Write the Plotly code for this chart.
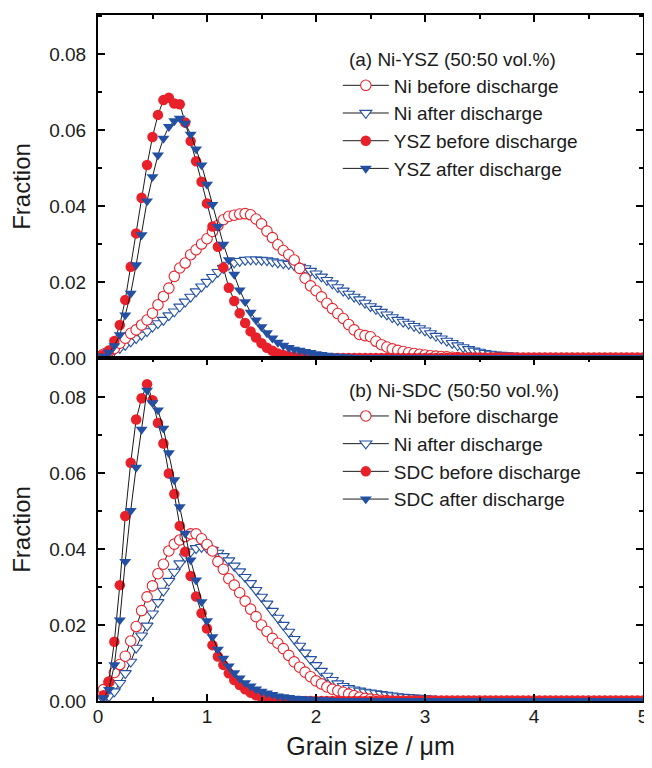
import plotly.graph_objects as go
from plotly.subplots import make_subplots

# ---------------- data ----------------
grain_size = [
    0.05, 0.10, 0.15, 0.20, 0.25, 0.30, 0.35, 0.40, 0.45, 0.50,
    0.55, 0.60, 0.65, 0.70, 0.75, 0.80, 0.85, 0.90, 0.95, 1.00,
    1.05, 1.10, 1.15, 1.20, 1.25, 1.30, 1.35, 1.40, 1.45, 1.50,
    1.55, 1.60, 1.65, 1.70, 1.75, 1.80, 1.85, 1.90, 1.95, 2.00,
    2.05, 2.10, 2.15, 2.20, 2.25, 2.30, 2.35, 2.40, 2.45, 2.50,
    2.55, 2.60, 2.65, 2.70, 2.75, 2.80, 2.85, 2.90, 2.95, 3.00,
    3.05, 3.10, 3.15, 3.20, 3.25, 3.30, 3.35, 3.40, 3.45, 3.50,
    3.55, 3.60, 3.65, 3.70, 3.75, 3.80, 3.85, 3.90, 3.95, 4.00,
    4.05, 4.10, 4.15, 4.20, 4.25, 4.30, 4.35, 4.40, 4.45, 4.50,
    4.55, 4.60, 4.65, 4.70, 4.75, 4.80, 4.85, 4.90, 4.95, 5.00,
]

# (a) Ni-YSZ
ni_before_a = [
    0.0010, 0.0017, 0.0025, 0.0039, 0.0052, 0.0065, 0.0074, 0.0087, 0.0100, 0.0118,
    0.0140, 0.0162, 0.0184, 0.0215, 0.0237, 0.0250, 0.0272, 0.0285, 0.0300, 0.0314,
    0.0333, 0.0349, 0.0364, 0.0373, 0.0376, 0.0379, 0.0380, 0.0377, 0.0366, 0.0353,
    0.0334, 0.0317, 0.0298, 0.0283, 0.0272, 0.0258, 0.0236, 0.0210, 0.0190, 0.0177,
    0.0161, 0.0144, 0.0130, 0.0117, 0.0104, 0.0088, 0.0074, 0.0062, 0.0059, 0.0056,
    0.0044, 0.0035, 0.0029, 0.0024, 0.0020, 0.0017, 0.0014, 0.0012, 0.0010, 0.0008,
    0.0006, 0.0005, 0.0004, 0.0003, 0.0002, 0.0001, 0.0, 0.0, 0.0, 0.0,
    0.0, 0.0, 0.0, 0.0, 0.0, 0.0, 0.0, 0.0, 0.0, 0.0,
    0.0, 0.0, 0.0, 0.0, 0.0, 0.0, 0.0, 0.0, 0.0, 0.0,
    0.0, 0.0, 0.0, 0.0, 0.0, 0.0, 0.0, 0.0, 0.0, 0.0,
]
ni_after_a = [
    0.0010, 0.0017, 0.0021, 0.0026, 0.0034, 0.0043, 0.0052, 0.0061, 0.0070, 0.0082,
    0.0091, 0.0100, 0.0112, 0.0122, 0.0135, 0.0148, 0.0161, 0.0175, 0.0188, 0.0200,
    0.0213, 0.0226, 0.0237, 0.0245, 0.0251, 0.0255, 0.0258, 0.0259, 0.0259, 0.0258,
    0.0257, 0.0254, 0.0251, 0.0249, 0.0247, 0.0244, 0.0240, 0.0236, 0.0229, 0.0222,
    0.0214, 0.0205, 0.0196, 0.0186, 0.0177, 0.0169, 0.0161, 0.0154, 0.0145, 0.0136,
    0.0129, 0.0121, 0.0114, 0.0107, 0.0100, 0.0095, 0.0090, 0.0084, 0.0078, 0.0072,
    0.0065, 0.0058, 0.0051, 0.0045, 0.0039, 0.0033, 0.0028, 0.0023, 0.0019, 0.0016,
    0.0013, 0.0011, 0.0009, 0.0008, 0.0007, 0.0006, 0.0005, 0.0004, 0.0003, 0.0003,
    0.0002, 0.0002, 0.0001, 0.0, 0.0, 0.0, 0.0, 0.0, 0.0, 0.0,
    0.0, 0.0, 0.0, 0.0, 0.0, 0.0, 0.0, 0.0, 0.0, 0.0,
]
ysz_before_a = [
    0.0008, 0.0020, 0.0045, 0.0087, 0.0153, 0.0240, 0.0328, 0.0422, 0.0508, 0.0582,
    0.0640, 0.0679, 0.0685, 0.0670, 0.0668, 0.0620, 0.0571, 0.0518, 0.0464, 0.0407,
    0.0346, 0.0293, 0.0238, 0.0185, 0.0150, 0.0118, 0.0092, 0.0070, 0.0054, 0.0039,
    0.0027, 0.0019, 0.0012, 0.0008, 0.0005, 0.0003, 0.0002, 0.0001, 0.0, 0.0,
    0.0, 0.0, 0.0, 0.0, 0.0, 0.0, 0.0, 0.0, 0.0, 0.0,
    0.0, 0.0, 0.0, 0.0, 0.0, 0.0, 0.0, 0.0, 0.0, 0.0,
    0.0, 0.0, 0.0, 0.0, 0.0, 0.0, 0.0, 0.0, 0.0, 0.0,
    0.0, 0.0, 0.0, 0.0, 0.0, 0.0, 0.0, 0.0, 0.0, 0.0,
    0.0, 0.0, 0.0, 0.0, 0.0, 0.0, 0.0, 0.0, 0.0, 0.0,
    0.0, 0.0, 0.0, 0.0, 0.0, 0.0, 0.0, 0.0, 0.0, 0.0,
]
ysz_after_a = [
    0.0005, 0.0015, 0.0032, 0.0061, 0.0113, 0.0170, 0.0245, 0.0324, 0.0413, 0.0477,
    0.0534, 0.0578, 0.0609, 0.0624, 0.0631, 0.0618, 0.0589, 0.0550, 0.0508, 0.0457,
    0.0404, 0.0346, 0.0299, 0.0258, 0.0220, 0.0179, 0.0148, 0.0120, 0.0100, 0.0082,
    0.0066, 0.0052, 0.0041, 0.0033, 0.0027, 0.0023, 0.0020, 0.0017, 0.0014, 0.0011,
    0.0009, 0.0007, 0.0005, 0.0004, 0.0003, 0.0002, 0.0001, 0.0, 0.0, 0.0,
    0.0, 0.0, 0.0, 0.0, 0.0, 0.0, 0.0, 0.0, 0.0, 0.0,
    0.0, 0.0, 0.0, 0.0, 0.0, 0.0, 0.0, 0.0, 0.0, 0.0,
    0.0, 0.0, 0.0, 0.0, 0.0, 0.0, 0.0, 0.0, 0.0, 0.0,
    0.0, 0.0, 0.0, 0.0, 0.0, 0.0, 0.0, 0.0, 0.0, 0.0,
    0.0, 0.0, 0.0, 0.0, 0.0, 0.0, 0.0, 0.0, 0.0, 0.0,
]

# (b) Ni-SDC
ni_before_b = [
    0.0030, 0.0050, 0.0075, 0.0096, 0.0118, 0.0158, 0.0196, 0.0238, 0.0274, 0.0303,
    0.0335, 0.0360, 0.0395, 0.0413, 0.0424, 0.0433, 0.0440, 0.0440, 0.0427, 0.0412,
    0.0395, 0.0367, 0.0347, 0.0322, 0.0305, 0.0285, 0.0263, 0.0242, 0.0222, 0.0200,
    0.0183, 0.0165, 0.0152, 0.0138, 0.0120, 0.0103, 0.0089, 0.0076, 0.0064, 0.0053,
    0.0045, 0.0037, 0.0031, 0.0027, 0.0023, 0.0018, 0.0014, 0.0010, 0.0007, 0.0005,
    0.0003, 0.0002, 0.0001, 0.0, 0.0, 0.0, 0.0, 0.0, 0.0, 0.0,
    0.0, 0.0, 0.0, 0.0, 0.0, 0.0, 0.0, 0.0, 0.0, 0.0,
    0.0, 0.0, 0.0, 0.0, 0.0, 0.0, 0.0, 0.0, 0.0, 0.0,
    0.0, 0.0, 0.0, 0.0, 0.0, 0.0, 0.0, 0.0, 0.0, 0.0,
    0.0, 0.0, 0.0, 0.0, 0.0, 0.0, 0.0, 0.0, 0.0, 0.0,
]
ni_after_b = [
    0.0005, 0.0012, 0.0025, 0.0047, 0.0073, 0.0103, 0.0140, 0.0172, 0.0198, 0.0230,
    0.0260, 0.0290, 0.0316, 0.0340, 0.0362, 0.0380, 0.0393, 0.0402, 0.0405, 0.0403,
    0.0398, 0.0390, 0.0381, 0.0370, 0.0356, 0.0341, 0.0326, 0.0310, 0.0292, 0.0274,
    0.0256, 0.0237, 0.0219, 0.0200, 0.0182, 0.0163, 0.0145, 0.0127, 0.0110, 0.0094,
    0.0079, 0.0066, 0.0055, 0.0046, 0.0039, 0.0034, 0.0030, 0.0027, 0.0024, 0.0022,
    0.0020, 0.0018, 0.0016, 0.0014, 0.0012, 0.0011, 0.0010, 0.0009, 0.0008, 0.0007,
    0.0006, 0.0005, 0.0004, 0.0004, 0.0003, 0.0003, 0.0002, 0.0002, 0.0001, 0.0,
    0.0, 0.0, 0.0, 0.0, 0.0, 0.0, 0.0, 0.0, 0.0, 0.0,
    0.0, 0.0, 0.0, 0.0, 0.0, 0.0, 0.0, 0.0, 0.0, 0.0,
    0.0, 0.0, 0.0, 0.0, 0.0, 0.0, 0.0, 0.0, 0.0, 0.0,
]
sdc_before_b = [
    0.0015, 0.0051, 0.0156, 0.0305, 0.0487, 0.0627, 0.0741, 0.0797, 0.0834, 0.0792,
    0.0732, 0.0678, 0.0599, 0.0545, 0.0461, 0.0393, 0.0329, 0.0275, 0.0231, 0.0191,
    0.0147, 0.0117, 0.0095, 0.0073, 0.0055, 0.0042, 0.0031, 0.0022, 0.0015, 0.0010,
    0.0007, 0.0005, 0.0003, 0.0002, 0.0001, 0.0, 0.0, 0.0, 0.0, 0.0,
    0.0, 0.0, 0.0, 0.0, 0.0, 0.0, 0.0, 0.0, 0.0, 0.0,
    0.0, 0.0, 0.0, 0.0, 0.0, 0.0, 0.0, 0.0, 0.0, 0.0,
    0.0, 0.0, 0.0, 0.0, 0.0, 0.0, 0.0, 0.0, 0.0, 0.0,
    0.0, 0.0, 0.0, 0.0, 0.0, 0.0, 0.0, 0.0, 0.0, 0.0,
    0.0, 0.0, 0.0, 0.0, 0.0, 0.0, 0.0, 0.0, 0.0, 0.0,
    0.0, 0.0, 0.0, 0.0, 0.0, 0.0, 0.0, 0.0, 0.0, 0.0,
]
sdc_after_b = [
    0.0008, 0.0030, 0.0095, 0.0213, 0.0367, 0.0501, 0.0615, 0.0715, 0.0818, 0.0785,
    0.0766, 0.0718, 0.0653, 0.0582, 0.0511, 0.0441, 0.0371, 0.0318, 0.0261, 0.0211,
    0.0169, 0.0136, 0.0112, 0.0092, 0.0074, 0.0060, 0.0048, 0.0039, 0.0031, 0.0025,
    0.0021, 0.0017, 0.0013, 0.0011, 0.0009, 0.0007, 0.0006, 0.0005, 0.0004, 0.0003,
    0.0002, 0.0002, 0.0001, 0.0, 0.0, 0.0, 0.0, 0.0, 0.0, 0.0,
    0.0, 0.0, 0.0, 0.0, 0.0, 0.0, 0.0, 0.0, 0.0, 0.0,
    0.0, 0.0, 0.0, 0.0, 0.0, 0.0, 0.0, 0.0, 0.0, 0.0,
    0.0, 0.0, 0.0, 0.0, 0.0, 0.0, 0.0, 0.0, 0.0, 0.0,
    0.0, 0.0, 0.0, 0.0, 0.0, 0.0, 0.0, 0.0, 0.0, 0.0,
    0.0, 0.0, 0.0, 0.0, 0.0, 0.0, 0.0, 0.0, 0.0, 0.0,
]

legend_titles = ["(a) Ni-YSZ (50:50 vol.%)", "(b) Ni-SDC (50:50 vol.%)"]
panel_a_names = ["Ni before discharge", "Ni after discharge", "YSZ before discharge", "YSZ after discharge"]
panel_b_names = ["Ni before discharge", "Ni after discharge", "SDC before discharge", "SDC after discharge"]
x_ticks = [0, 1, 2, 3, 4, 5]
y_ticks = [0.00, 0.02, 0.04, 0.06, 0.08]

# ---------------- styling ----------------
RED = "#E8202A"
BLUE = "#2350A3"
TXT = "#1a1a1a"
FONT = "Liberation Sans, Arial, Helvetica, sans-serif"
TITLE_INDENT = "\u00a0\u2009"  # aligns the legend heading with the item symbols

styles = [
    dict(symbol="circle", size=10.5, color="white", line=dict(color=RED, width=1.1)),
    dict(symbol="triangle-down", size=10.5, color="white", line=dict(color=BLUE, width=1.1)),
    dict(symbol="circle", size=10.5, color=RED, line=dict(color=RED, width=0)),
    dict(symbol="triangle-down", size=10.5, color=BLUE, line=dict(color=BLUE, width=0)),
]
# draw order: open triangles under open circles, filled markers on top
draw_order = [1, 0, 2, 3]

fig = make_subplots(rows=2, cols=1, shared_xaxes=True, vertical_spacing=0)

panels = [
    (1, [ni_before_a, ni_after_a, ysz_before_a, ysz_after_a], panel_a_names, "legend"),
    (2, [ni_before_b, ni_after_b, sdc_before_b, sdc_after_b], panel_b_names, "legend2"),
]
for row, series, names, leg in panels:
    for k in draw_order:
        fig.add_trace(
            go.Scatter(
                x=grain_size, y=series[k], name=names[k],
                mode="lines+markers",
                line=dict(color="black", width=0.9),
                marker=styles[k],
                legend=leg, legendrank=k + 1,
            ),
            row=row, col=1,
        )

yaxis_common = dict(
    range=[0, 0.0903], tickvals=y_ticks, tickformat=".2f",
    ticks="inside", ticklen=7, tickwidth=1.5, tickcolor="black",
    minor=dict(dtick=0.01, tick0=0, ticks="inside", ticklen=4, tickwidth=1.5, tickcolor="black"),
    showline=True, linewidth=2, linecolor="black", mirror="ticks",
    showgrid=False, zeroline=False, automargin=False,
    ticklabelstandoff=6,
    tickfont=dict(family=FONT, size=19, color=TXT),
    title=dict(text="Fraction", font=dict(family=FONT, size=24, color=TXT), standoff=14),
)
fig.update_yaxes(**yaxis_common, row=1, col=1)
fig.update_yaxes(**yaxis_common, row=2, col=1)

fig.update_xaxes(
    range=[0, 5], tickvals=x_ticks, side="top", showticklabels=False,
    ticks="inside", ticklen=7, tickwidth=1.5, tickcolor="black",
    minor=dict(dtick=0.5, tick0=0, ticks="inside", ticklen=4, tickwidth=1.5, tickcolor="black"),
    showline=True, linewidth=2, linecolor="black", mirror=True,
    showgrid=False, zeroline=False, automargin=False, row=1, col=1,
)
fig.update_xaxes(
    range=[0, 5], tickvals=x_ticks, showticklabels=True,
    ticks="inside", ticklen=7, tickwidth=1.5, tickcolor="black",
    minor=dict(dtick=0.5, tick0=0, ticks="inside", ticklen=4, tickwidth=1.5, tickcolor="black"),
    showline=True, linewidth=2, linecolor="black", mirror="ticks",
    showgrid=False, zeroline=False, automargin=False,
    ticklabelstandoff=-3,
    tickfont=dict(family=FONT, size=19, color=TXT),
    title=dict(text="Grain size / μm", font=dict(family=FONT, size=25, color=TXT), standoff=15),
    row=2, col=1,
)

legend_common = dict(
    xanchor="left", yanchor="top", bgcolor="rgba(0,0,0,0)", borderwidth=0,
    font=dict(family=FONT, size=19, color=TXT),
    traceorder="normal", itemwidth=46,
)
# the page body adds an 8 px offset on every side, so the figure is kept
# small enough that the page needs no scrollbar
fig.update_layout(
    width=644, height=752,
    margin=dict(l=90, r=9, t=7, b=59),
    paper_bgcolor="white", plot_bgcolor="white",
    showlegend=True,
    legend=dict(**legend_common, x=0.44, y=0.961,
                title=dict(text=TITLE_INDENT + legend_titles[0],
                           font=dict(family=FONT, size=19, color=TXT))),
    legend2=dict(**legend_common, x=0.44, y=0.479,
                 title=dict(text=TITLE_INDENT + legend_titles[1],
                            font=dict(family=FONT, size=19, color=TXT))),
)

fig.write_html("out.html")
